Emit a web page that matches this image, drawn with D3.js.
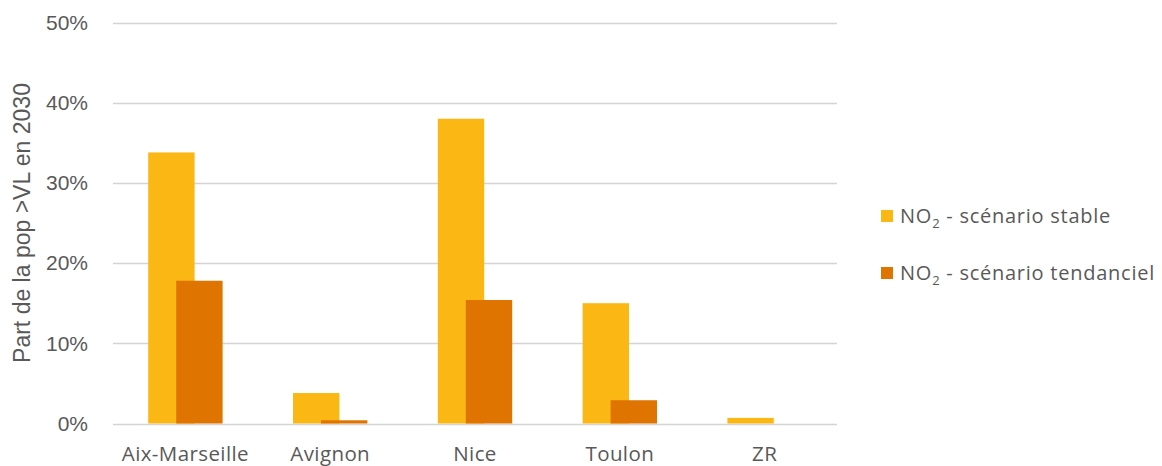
<!DOCTYPE html>
<html>
<head>
<meta charset="utf-8">
<script src="https://cdn.jsdelivr.net/npm/d3@7"></script>
<style>
  body { margin: 0; background: #fff; }
  svg { display: block; }
</style>
</head>
<body>
<script>
// data
const cities = ['Aix-Marseille', 'Avignon', 'Nice', 'Toulon', 'ZR'];
const stable = [0.338, 0.038, 0.380, 0.150, 0.007];
const tendanciel = [0.178, 0.004, 0.154, 0.029, 0];
const seriesNames = ['scénario stable', 'scénario tendanciel'];
const yTicks = [0, 0.1, 0.2, 0.3, 0.4, 0.5];

const width = 1162;
const height = 466;
const colours = ['#FBB714', '#DF7400'];
const textColour = '#595959';

const svg = d3.select('body')
    .append('svg')
    .attr('width', width)
    .attr('height', height);

const xScale = d3.scaleBand()
    .domain(cities)
    .range([113, 837]);

const yScale = d3.scaleLinear()
    .domain([0, 0.5])
    .range([423.5, 22.5]);

// gridlines
svg.append('g')
    .selectAll('line')
    .data(yTicks)
    .enter()
    .append('line')
    .attr('x1', 113)
    .attr('x2', 837)
    .attr('y1', d => Math.round(yScale(d)) + 0.5)
    .attr('y2', d => Math.round(yScale(d)) + 0.5)
    .attr('stroke', '#d4d4d4')
    .attr('stroke-width', 1.4);

// y axis labels
const yAxis = svg.append('g')
    .attr('transform', 'translate(88, 0)')
    .call(d3.axisLeft(yScale).tickValues(yTicks).tickFormat(d3.format('.0%')).tickSize(0).tickPadding(0));
yAxis.select('.domain').remove();
yAxis.selectAll('text')
    .attr('fill', textColour)
    .style('font-family', '"Liberation Sans", Arial, sans-serif')
    .style('font-size', '21px');

svg.append('text')
    .attr('transform', 'translate(30, 223) rotate(-90)')
    .attr('text-anchor', 'middle')
    .attr('fill', textColour)
    .style('font-family', '"Liberation Sans", Arial, sans-serif')
    .style('font-size', '23px')
    .text('Part de la pop >VL en 2030');

// x axis labels
const xAxis = svg.append('g')
    .attr('transform', 'translate(0, 461)')
    .call(d3.axisBottom(xScale).tickSize(0).tickPadding(0));
xAxis.select('.domain').remove();
xAxis.selectAll('text')
    .attr('fill', textColour)
    .attr('y', 0)
    .attr('dy', 0)
    .style('font-family', '"Open Sans", sans-serif')
    .style('font-size', '20.5px')
    .style('letter-spacing', '0.4px');

// bars: excel-like overlap, the second series drawn in front
const barWidth = 46.4;
const step = 28;
[stable, tendanciel].forEach(function (values, s) {
    svg.append('g')
        .selectAll('rect')
        .data(values)
        .enter()
        .append('rect')
        .attr('x', (d, i) => xScale(cities[i]) + xScale.bandwidth() / 2 - (barWidth + step) / 2 + s * step)
        .attr('y', d => yScale(d))
        .attr('width', barWidth)
        .attr('height', d => yScale(0) - yScale(d))
        .attr('fill', colours[s]);
});

// legend
const legend = svg.append('g')
    .selectAll('g')
    .data(seriesNames)
    .enter()
    .append('g')
    .attr('transform', (d, i) => `translate(881, ${216 + i * 57})`);

legend.append('rect')
    .attr('x', 0)
    .attr('y', -6)
    .attr('width', 12)
    .attr('height', 12)
    .attr('fill', (d, i) => colours[i]);

const label = legend.append('text')
    .attr('x', 19)
    .attr('y', 7)
    .attr('fill', textColour)
    .style('font-family', '"Open Sans", sans-serif')
    .style('font-size', '20px')
    .style('letter-spacing', '0.75px');
label.append('tspan').text('NO');
label.append('tspan').attr('dy', 5).style('font-size', '13px').text('2');
label.append('tspan').attr('dy', -5).text(d => ' - ' + d);
</script>
</body>
</html>
